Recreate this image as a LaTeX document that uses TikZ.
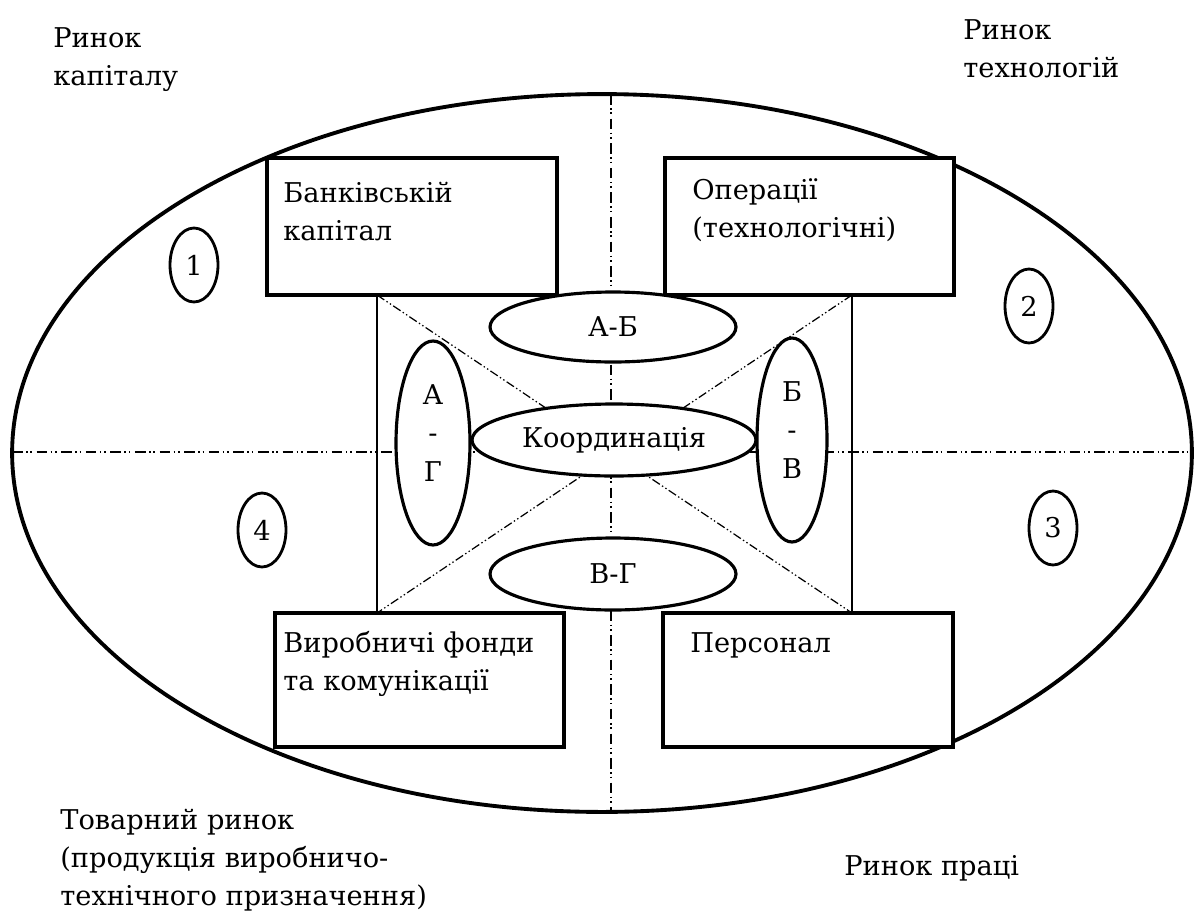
\documentclass[tikz,border=0pt]{standalone}
\usepackage{fontspec}
\setmainfont{DejaVu Serif}
\newfontfamily\tnr{DejaVu Serif}
\usetikzlibrary{shapes.geometric}
\newcommand\txtsize{\fontsize{15.5}{21.6}\selectfont}
\begin{document}
\begin{tikzpicture}[x=0.02cm,y=-0.02cm,
  txt/.style={font=\tnr\txtsize, inner sep=0pt, align=left, anchor=base west},
  box/.style={draw, line width=2.2pt, inner sep=0pt, fill=white},
  oval/.style={draw, ellipse, line width=1.8pt, fill=white, inner sep=0pt, align=center,
    font=\tnr\txtsize},
  vtxt/.style={inner sep=0pt, align=center, font=\tnr\fontsize{15.5}{22}\selectfont},
  num/.style={draw, ellipse, line width=1.6pt, inner sep=0pt, minimum width=0.96cm,
    minimum height=1.48cm, font=\tnr\txtsize},
  ddot/.style={line width=1pt, dash pattern=on 6pt off 2pt on 0.9pt off 1.6pt on 0.9pt off 2.6pt},
  thinline/.style={line width=0.7pt},
  diag/.style={line width=0.7pt, dash pattern=on 5pt off 1.5pt on 0.8pt off 1.5pt on 0.8pt off 1.5pt}]
\useasboundingbox (0,0) rectangle (1203,913);

% outer market ellipse
\node[draw, ellipse, line width=2.2pt, inner sep=0pt, minimum width=23.6cm, minimum height=14.36cm] (market) at (602,453) {};

% axes
\coordinate (vtop) at (611,94);
\coordinate (vbot) at (611,812);
\coordinate (hl) at (12,452);
\coordinate (hr) at (1192,452);
\draw[ddot] (vtop) -- (vbot);
\draw[ddot] (hl) -- (hr);

% inner thin rectangle and diagonals
\coordinate (itl) at (377,295);
\coordinate (itr) at (852,295);
\coordinate (ibl) at (377,613);
\coordinate (ibr) at (852,613);
\draw[thinline] (itl) -- (ibl);
\draw[thinline] (itr) -- (ibr);
\draw[diag] (itl) -- (ibr);
\draw[diag] (itr) -- (ibl);

% boxes
\node[box, minimum width=5.8cm, minimum height=2.74cm] (bank) at (412,226.5) {};
\node[box, minimum width=5.78cm, minimum height=2.74cm] (oper) at (809.5,226.5) {};
\node[box, minimum width=5.78cm, minimum height=2.68cm] (fond) at (419.5,680) {};
\node[box, minimum width=5.8cm, minimum height=2.68cm] (pers) at (808,680) {};

\node[txt] (banktxt) at (283,240) {Банківській\\капітал};
\node[txt] (opertxt) at (692,237) {Операції\\(технологічні)};
\node[txt] (fondtxt) at (283,690) {Виробничі фонди\\та комунікації};
\node[txt] (perstxt) at (690,652) {Персонал};

% inner ellipses
\node[oval, minimum width=4.92cm, minimum height=1.4cm] (ab) at (613,327) {А-Б};
\node[oval, minimum width=5.68cm, minimum height=1.44cm] (coord) at (614,440) {Координація};
\node[oval, minimum width=4.92cm, minimum height=1.44cm] (vg) at (613,574) {В-Г};
\node[oval, minimum width=1.48cm, minimum height=4.08cm] (ag) at (433,443) {};
\node[oval, minimum width=1.4cm, minimum height=4.08cm] (bv) at (792,440) {};
\node[vtxt] (agtxt) at (433,433) {А\\-\\Г};
\node[vtxt] (bvtxt) at (792,430) {Б\\-\\В};

% quadrant numbers
\node[num] (n1) at (194,265) {1};
\node[num] (n2) at (1029,306) {2};
\node[num] (n3) at (1053,528) {3};
\node[num] (n4) at (262,530) {4};

% market labels
\node[txt] (capital) at (53,85) {Ринок\\капіталу};
\node[txt] (tech) at (963,77) {Ринок\\технологій};
\node[txt] (goods) at (60,905) {Товарний ринок\\(продукція виробничо-\\технічного призначення)};
\node[txt] (labour) at (844,875) {Ринок праці};
\end{tikzpicture}
\end{document}
